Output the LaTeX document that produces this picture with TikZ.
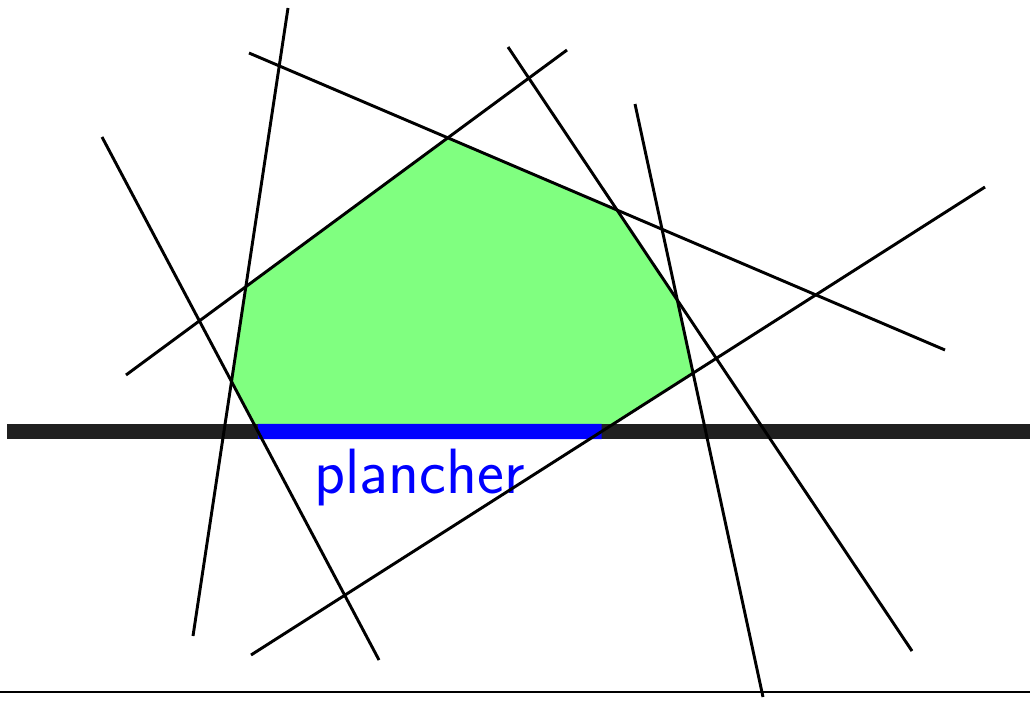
\documentclass[tikz,border=0pt]{standalone}
\usepackage{fontspec}
\begin{document}
\begin{tikzpicture}[x=0.75pt,y=-0.75pt,
  cut/.style={line width=2.2pt,black},
  floorbar/.style={line width=11.5pt,color={rgb,255:red,32;green,32;blue,32}},
  floorpart/.style={line width=11.5pt,color=blue},
  region/.style={fill={rgb,255:red,128;green,255;blue,128}},
  lbl/.style={text=blue,font=\sffamily\fontsize{48}{52}\selectfont,inner sep=0pt,anchor=base}]
\useasboundingbox (0,0) rectangle (1030,703);
% line endpoints
\coordinate (a1) at (288,8);   \coordinate (a2) at (193,636);
\coordinate (b1) at (249,53);  \coordinate (b2) at (945,350);
\coordinate (c1) at (102,137); \coordinate (c2) at (379,660);
\coordinate (d1) at (126,375); \coordinate (d2) at (567,50);
\coordinate (e1) at (508,47);  \coordinate (e2) at (912,651);
\coordinate (f1) at (635,104); \coordinate (f2) at (763,697);
\coordinate (g1) at (985,187); \coordinate (g2) at (251,655);
\coordinate (fl) at (7,431.5); \coordinate (fr) at (1030,431.5);
\coordinate (bl) at (0,692);   \coordinate (br) at (1030,692);
% polygon vertices
\coordinate (v1) at (intersection of c1--c2 and fl--fr);
\coordinate (v2) at (intersection of c1--c2 and a1--a2);
\coordinate (v3) at (intersection of a1--a2 and d1--d2);
\coordinate (v4) at (intersection of d1--d2 and b1--b2);
\coordinate (v5) at (intersection of b1--b2 and e1--e2);
\coordinate (v6) at (intersection of e1--e2 and f1--f2);
\coordinate (v7) at (intersection of f1--f2 and g1--g2);
\coordinate (v8) at (intersection of g1--g2 and fl--fr);
\fill[region] (v1) -- (v2) -- (v3) -- (v4) -- (v5) -- (v6) -- (v7) -- (v8) -- cycle;
\draw[floorbar] (fl) -- (fr);
\draw[floorpart] (v1) -- (v8);
\draw[line width=1.1pt] (bl) -- (br);
\node[lbl] (txt) at (419.5,493) {plancher};
\draw[cut] (a1) -- (a2);
\draw[cut] (b1) -- (b2);
\draw[cut] (c1) -- (c2);
\draw[cut] (d1) -- (d2);
\draw[cut] (e1) -- (e2);
\draw[cut] (f1) -- (f2);
\draw[cut] (g1) -- (g2);
\end{tikzpicture}
\end{document}
